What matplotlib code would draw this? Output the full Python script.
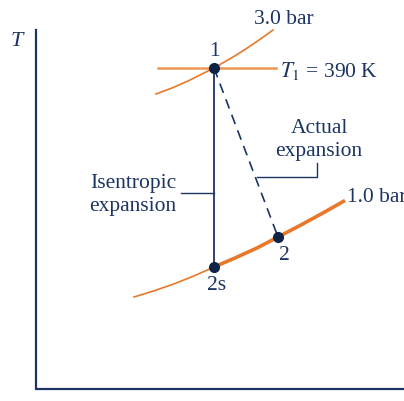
import matplotlib.pyplot as plt

# points, in picture pixels (x right, y down)
p1 = (214, 68)
p2s = (214, 267)
p2 = (278, 237)

# 3.0 bar isobar
hi_x = [156, 172, 188, 214, 235, 245, 255, 264, 273]
hi_y = [94, 88, 81, 68, 55.8, 49.5, 42.8, 36.5, 30]

# 1.0 bar isobar (thin part up to 2s, thick part after)
lo_thin_x = [134, 155, 175, 195, 214]
lo_thin_y = [297, 290.5, 283.5, 275.5, 267]
lo_thick_x = [214, 235, 257, 278, 300, 322, 345]
lo_thick_y = [267, 258, 248, 237, 225.5, 213.5, 200.5]

# T1 isotherm
t1_x = [158, 276]
t1_y = [68, 68]

navy = '#1b3463'
dot = '#0d2447'
orange = '#e8782a'
light_orange = '#ef9555'
font = 'Liberation Serif'

fig = plt.figure(figsize=(4.04, 4.01), dpi=100)
ax = fig.add_axes([0, 0, 1, 1])
ax.set_xlim(0, 404)
ax.set_ylim(401, 0)
ax.axis('off')

# axes
ax.plot([36, 36, 404], [30, 389, 389], color=navy, lw=1.6, solid_joinstyle='miter')
ax.text(17, 42, 'T', fontsize=16, style='italic', family=font, color=navy, ha='center', va='center')

# property lines
ax.plot(hi_x, hi_y, color=orange, lw=1.2)
ax.plot(t1_x, t1_y, color=light_orange, lw=1.8)
ax.plot(lo_thin_x, lo_thin_y, color=orange, lw=1.2)
ax.plot(lo_thick_x, lo_thick_y, color=orange, lw=2.6, solid_capstyle='butt')

# processes
ax.plot([p1[0], p2s[0]], [p1[1], p2s[1]], color=navy, lw=1.3)
ax.plot([p1[0], p2[0]], [p1[1], p2[1]], color=navy, lw=1.2, dashes=(6, 4))

for p in (p1, p2s, p2):
    ax.plot(*p, 'o', color=dot, ms=7, zorder=5)

# leaders
ax.plot([181, 214], [193, 193], color=navy, lw=1.0)
ax.plot([257, 317, 317], [177, 177, 163], color=navy, lw=1.0)

tk = dict(family=font, color=navy, fontsize=15.5)
ax.text(214, 52, '1', ha='center', va='center', **tk)
ax.text(284, 255, '2', ha='center', va='center', **tk)
ax.text(217, 285, '2s', ha='center', va='center', **tk)
ax.text(254, 19, '3.0 bar', ha='left', va='center', **tk)
ax.text(280, 71, '$T_1$ = 390 K', ha='left', va='center', math_fontfamily='stix', **tk)
ax.text(347, 197, '1.0 bar', ha='left', va='center', **tk)
ax.text(133, 195, 'Isentropic\nexpansion', ha='center', va='center', linespacing=1.25, **tk)
ax.text(319, 140, 'Actual\nexpansion', ha='center', va='center', linespacing=1.25, **tk)

fig.savefig('out.png', dpi=100)
